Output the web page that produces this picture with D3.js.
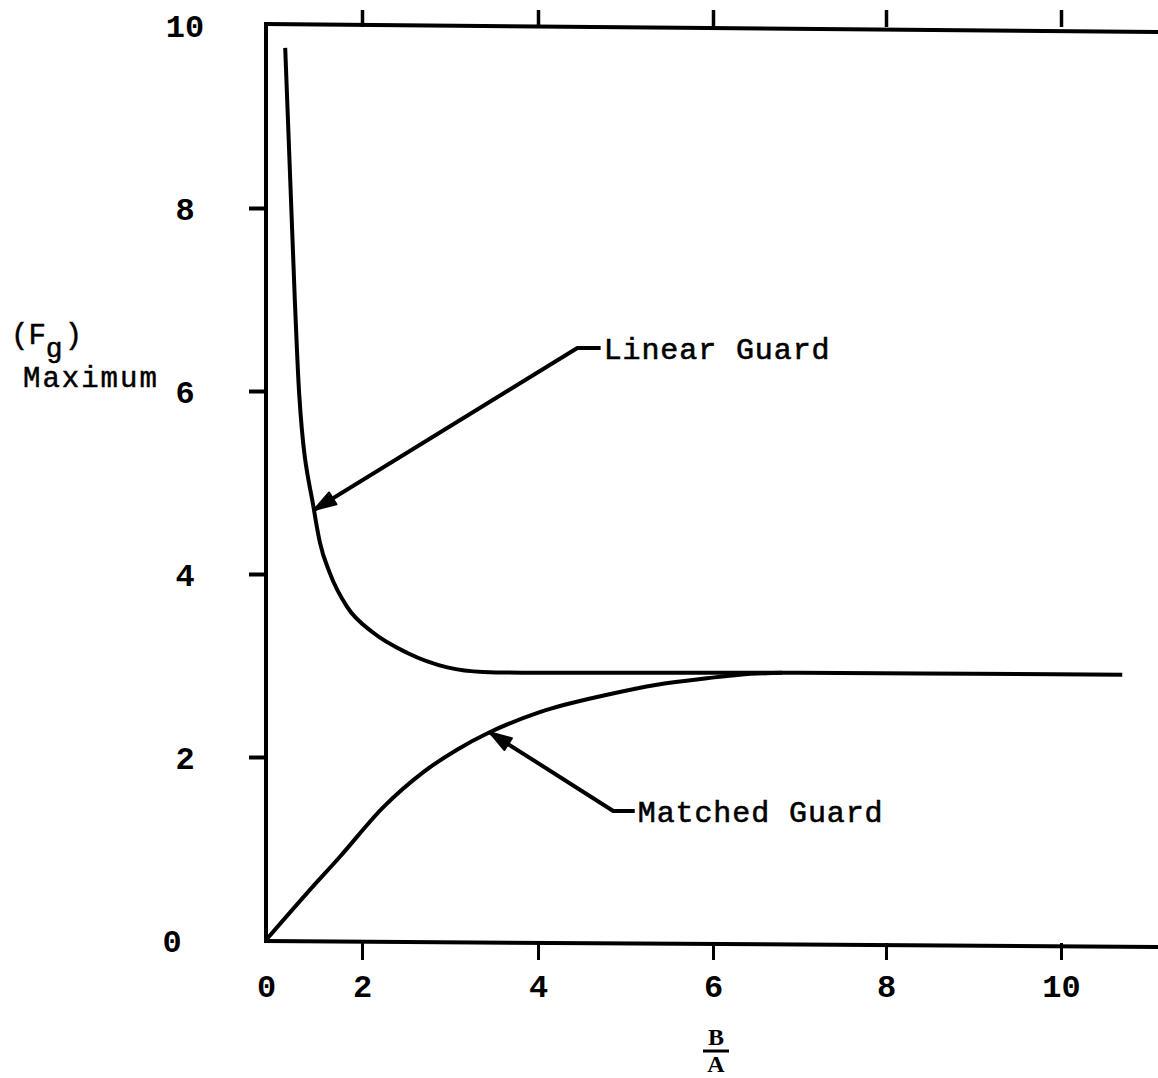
<!DOCTYPE html>
<html>
<head>
<meta charset="utf-8">
<script src="https://cdn.jsdelivr.net/npm/d3@7"></script>
<style>
  html, body { margin: 0; padding: 0; background: #fff; }
  svg { display: block; }
  text { fill: #000; font-family: "Liberation Mono", "DejaVu Sans Mono", monospace; }
</style>
</head>
<body>
<svg id="chart" width="1158" height="1078"></svg>
<script>
// B/A ratio vs maximum guard factor (Fg)
const xTicks = [0, 2, 4, 6, 8, 10];
const yTicks = [0, 2, 4, 6, 8, 10];

const linearGuardX = [0.40, 0.60, 0.69, 1.00, 1.125, 1.33, 1.69, 2.125, 2.51, 2.97, 3.375, 4.0, 5.2, 7.0, 9.0, 10.7];
const linearGuardY = [9.75, 7.00, 5.98, 4.70, 4.34, 4.01, 3.64, 3.36, 3.14, 2.98, 2.93, 2.92, 2.92, 2.92, 2.91, 2.90];

const matchedGuardX = [0, 0.85, 1.54, 2.24, 2.69, 3.08, 3.45, 4.02, 4.79, 5.36, 5.93, 6.31, 6.8];
const matchedGuardY = [0, 0.51, 0.91, 1.45, 1.83, 2.08, 2.27, 2.49, 2.68, 2.79, 2.86, 2.90, 2.92];

// annotation anchors in data units: tip on curve, elbow, text start
const linearNote = { tip: [1.0, 4.70], elbow: [4.45, 6.47], text: [4.75, 6.47], label: "Linear Guard" };
const matchedNote = { tip: [3.45, 2.27], elbow: [4.86, 1.41], text: [5.14, 1.41], label: "Matched Guard" };

const svg = d3.select("#chart");

// the printed axis is drawn with a shorter first interval (0 to 2)
const x = d3.scaleLinear()
  .domain([0, 2, 4, 6, 8, 10, 12])
  .range([266, 362, 538, 713, 886, 1061, 1236]);
const y = d3.scaleLinear().domain([0, 10]).range([940, 25]);

const plotLeft = x(0), plotRight = 1158, plotTop = y(10), plotBottom = y(0);

// frame: left, top and bottom edges
const frame = svg.append("g").attr("stroke", "#000").attr("stroke-width", 4).attr("stroke-linecap", "square");
frame.append("line").attr("x1", plotLeft).attr("y1", plotTop - 1).attr("x2", plotLeft).attr("y2", plotBottom);
frame.append("line").attr("x1", plotLeft).attr("y1", plotTop - 1).attr("x2", plotRight).attr("y2", plotTop + 7);
frame.append("line").attr("x1", plotLeft).attr("y1", plotBottom + 1).attr("x2", plotRight).attr("y2", plotBottom + 7);

// left axis
const yAxis = svg.append("g").attr("transform", `translate(${plotLeft},0)`)
  .call(d3.axisLeft(y).tickValues(yTicks).tickSize(17).tickSizeOuter(0).tickFormat(d3.format("d")));
yAxis.select(".domain").remove();
yAxis.selectAll(".tick line").attr("stroke", "#000").attr("stroke-width", 4)
  .filter(d => d === 0 || d === 10).remove();
yAxis.selectAll(".tick text")
  .attr("x", d => d === 0 ? -94 : -81)
  .attr("text-anchor", "middle")
  .attr("dy", "0.35em")
  .style("font-family", "'Liberation Mono', monospace")
  .style("font-weight", "bold")
  .style("font-size", "32px");

// bottom axis
const xAxis = svg.append("g").attr("transform", `translate(0,${plotBottom + 3})`)
  .call(d3.axisBottom(x).tickValues(xTicks).tickSize(17).tickSizeOuter(0).tickFormat(d3.format("d")));
xAxis.select(".domain").remove();
xAxis.selectAll(".tick line").attr("stroke", "#000").attr("stroke-width", 3)
  .filter(d => d === 0).remove();
xAxis.selectAll(".tick text")
  .attr("y", 43)
  .attr("dy", "0.35em")
  .style("font-family", "'Liberation Mono', monospace")
  .style("font-size", "32px")
  .style("font-weight", "bold");

// top axis: tick marks only
const topAxis = svg.append("g").attr("transform", `translate(0,${plotTop + 2})`)
  .call(d3.axisTop(x).tickValues(xTicks.filter(d => d > 0)).tickSize(17).tickSizeOuter(0).tickFormat(""));
topAxis.select(".domain").remove();
topAxis.selectAll(".tick line").attr("stroke", "#000").attr("stroke-width", 3.5);

// curves
const line = d3.line().x(d => x(d[0])).y(d => y(d[1])).curve(d3.curveMonotoneX);
const linearData = linearGuardX.map((v, i) => [v, linearGuardY[i]]);
const matchedData = matchedGuardX.map((v, i) => [v, matchedGuardY[i]]);

svg.append("path").datum(linearData).attr("d", line)
  .attr("fill", "none").attr("stroke", "#000").attr("stroke-width", 4).attr("stroke-linejoin", "round");
svg.append("path").datum(matchedData).attr("d", line)
  .attr("fill", "none").attr("stroke", "#000").attr("stroke-width", 4).attr("stroke-linejoin", "round");

// leader lines with arrowheads
function note(n) {
  const tip = [x(n.tip[0]), y(n.tip[1])];
  const elbow = [x(n.elbow[0]), y(n.elbow[1])];
  const txt = [x(n.text[0]), y(n.text[1])];
  svg.append("path")
    .attr("d", d3.line()([[txt[0] - 3, txt[1]], elbow, tip]))
    .attr("fill", "none").attr("stroke", "#000").attr("stroke-width", 4).attr("stroke-linejoin", "round");
  const ang = Math.atan2(tip[1] - elbow[1], tip[0] - elbow[0]);
  const len = 22, half = 7;
  const bx = tip[0] - len * Math.cos(ang), by = tip[1] - len * Math.sin(ang);
  const px = -Math.sin(ang) * half, py = Math.cos(ang) * half;
  svg.append("path")
    .attr("d", d3.line()([tip, [bx + px, by + py], [bx - px, by - py]]) + "Z")
    .attr("fill", "#000").attr("stroke", "#000").attr("stroke-width", 2).attr("stroke-linejoin", "round");
  svg.append("text")
    .attr("x", txt[0]).attr("y", txt[1])
    .attr("dy", "0.36em")
    .style("font-size", "30px")
    .style("letter-spacing", "0.9px")
    .attr("stroke", "#000").attr("stroke-width", 0.6)
    .text(n.label);
}
note(linearNote);
note(matchedNote);

// y-axis title: (Fg) over Maximum
const yt = svg.append("text").attr("x", 11).attr("y", 344).style("font-size", "29px")
  .attr("stroke", "#000").attr("stroke-width", 0.5);
yt.append("tspan").text("(F");
yt.append("tspan").attr("dy", 13).style("font-size", "28px").text("g");
yt.append("tspan").attr("dy", -13).attr("dx", 2).text(")");
svg.append("text").attr("x", 23).attr("y", 387).style("font-size", "29px").style("letter-spacing", "2px")
  .attr("stroke", "#000").attr("stroke-width", 0.5)
  .text("Maximum");

// x-axis title as a fraction B/A
const fx = x(6) + 3;
const fracFont = "'Liberation Serif', serif";
svg.append("text").attr("x", fx).attr("y", 1045).attr("text-anchor", "middle")
  .style("font-size", "24px").style("font-weight", "bold").style("font-family", fracFont).text("B");
svg.append("line").attr("x1", fx - 13).attr("x2", fx + 13).attr("y1", 1051).attr("y2", 1051)
  .attr("stroke", "#000").attr("stroke-width", 3);
svg.append("text").attr("x", fx).attr("y", 1072).attr("text-anchor", "middle")
  .style("font-size", "24px").style("font-weight", "bold").style("font-family", fracFont).text("A");
</script>
</body>
</html>
